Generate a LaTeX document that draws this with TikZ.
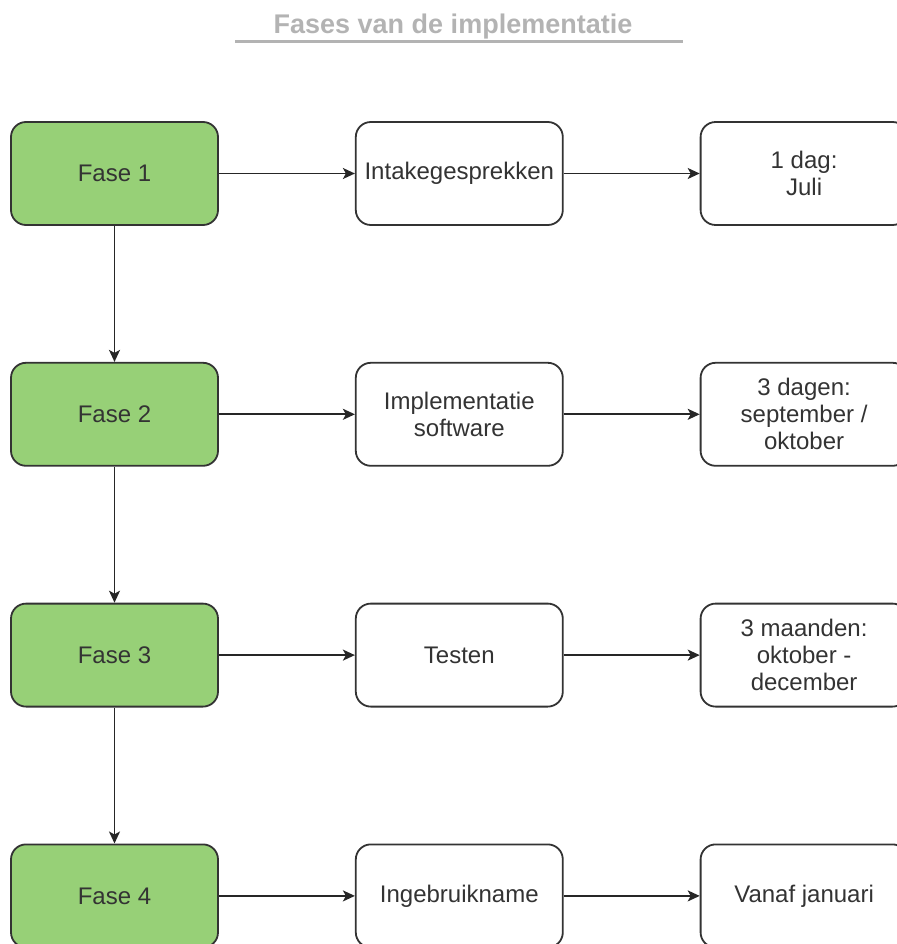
\documentclass[tikz,border=0pt]{standalone}
\usepackage{fontspec}
\setmainfont{Liberation Sans}
\usetikzlibrary{positioning,arrows.meta}
\definecolor{fasegroen}{HTML}{97D077}
\definecolor{rand}{HTML}{333333}
\definecolor{titelgrijs}{HTML}{B3B3B3}

\begin{document}
\begin{tikzpicture}[x=1pt,y=1pt,node distance=136pt,
  font=\fontsize{24}{27}\selectfont,text=rand,
  fase/.style={rectangle,rounded corners=15pt,fill=fasegroen,draw=rand,line width=1.8pt,
    minimum width=207pt,minimum height=103pt,align=center},
  stap/.style={fase,fill=white},
  pijl/.style={-{Stealth[length=12pt,width=11pt,inset=3pt]},draw=black!85,line width=1.8pt}]
  \useasboundingbox (0,0) rectangle (896,-944);
  			\node[font=\fontsize{27}{30}\bfseries,text=titelgrijs,anchor=base] (titel) at (453,-34) {Fases van de implementatie};
  			\draw[titelgrijs,line width=3pt] (235,-42) -- (683,-42);
  			\node[fase] (F1) at (114.5,-173.5) {Fase 1};
  			\node[stap] (S1) [right=of F1] {Intakegesprekken};
  			\node[stap] (T1) [right=of S1] {1 dag:\\Juli};
  			\node[fase] (F2) [below=of F1] {Fase 2};
  			\node[stap] (S2) [right=of F2] {Implementatie\\software};
  			\node[stap] (T2) [right=of S2] {3 dagen:\\september /\\oktober};
  			\node[fase] (F3) [below=of F2] {Fase 3};
  			\node[stap] (S3) [right=of F3] {Testen};
  			\node[stap] (T3) [right=of S3] {3 maanden:\\oktober -\\december};
  			\node[fase] (F4) [below=of F3] {Fase 4};
  			\node[stap] (S4) [right=of F4] {Ingebruikname};
  			\node[stap] (T4) [right=of S4] {Vanaf januari};
  			\path
  			(F1) edge[pijl] (S1)
  			(S1) edge[pijl] (T1)
  			(F2) edge[pijl] (S2)
  			(S2) edge[pijl] (T2)
  			(F3) edge[pijl] (S3)
  			(S3) edge[pijl] (T3)
  			(F4) edge[pijl] (S4)
  			(S4) edge[pijl] (T4)
  			(F1) edge[pijl] (F2)
  			(F2) edge[pijl] (F3)
  			(F3) edge[pijl] (F4);
		\end{tikzpicture}
\end{document}
